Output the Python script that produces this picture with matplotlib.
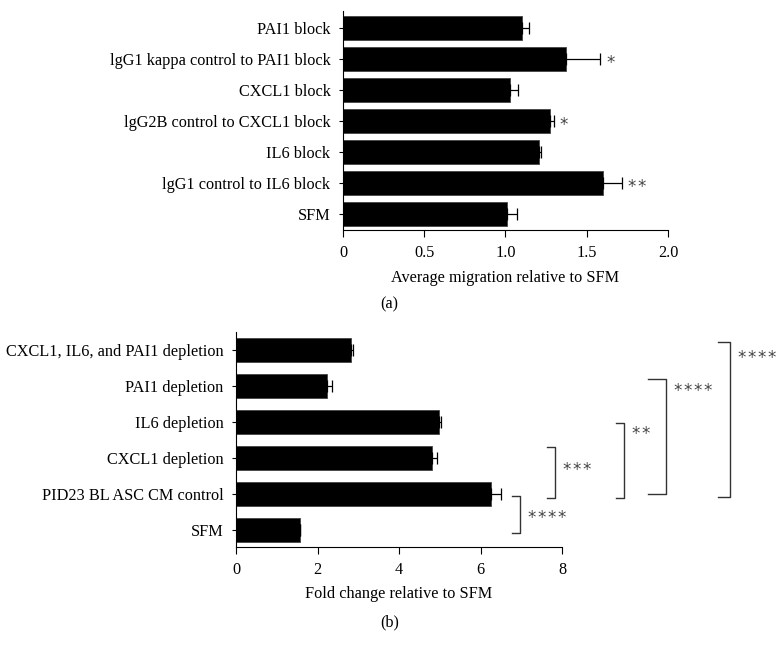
import matplotlib
matplotlib.use("Agg")
import matplotlib.pyplot as plt
import numpy as np

plt.rcParams.update({
    "font.family": "serif",
    "font.serif": ["Liberation Serif", "DejaVu Serif"],
    "font.size": 11.7,
})

#%% Panel (a) data (bottom to top)
labels_a = ['SFM', 'lgG1 control to IL6 block', 'IL6 block',
            'lgG2B control to CXCL1 block', 'CXCL1 block',
            'lgG1 kappa control to PAI1 block', 'PAI1 block']
mig_a = [1.01, 1.60, 1.206, 1.273, 1.028, 1.374, 1.10]
err_a = [0.06, 0.12, 0.012, 0.025, 0.046, 0.21, 0.045]
stars_a = ['', '**', '', '*', '', '*', '']
xticks_a = [0, 0.5, 1.0, 1.5, 2.0]
xticklabels_a = ['0', '0.5', '1.0', '1.5', '2.0']

#%% Panel (b) data (bottom to top)
labels_b = ['SFM', 'PID23 BL ASC CM control', 'CXCL1 depletion',
            'IL6 depletion', 'PAI1 depletion',
            'CXCL1, IL6, and PAI1 depletion']
fold_b = [1.56, 6.26, 4.82, 4.97, 2.23, 2.81]
err_b = [0.0, 0.25, 0.10, 0.06, 0.12, 0.06]
xticks_b = [0, 2, 4, 6, 8]
stars_b = ['****', '***', '**', '****', '****']

star_kw = dict(family='DejaVu Sans', fontsize=12, color='#444444')


def spaced(s):
    # small gap between asterisks, as in the figure
    return '\u200a'.join(s)


fig = plt.figure(figsize=(7.84, 6.54), dpi=100)

#%% Panel (a)
ax = fig.add_axes([0.4375, 0.648, 0.852 - 0.4375, 0.9836 - 0.648])
ya = np.arange(len(labels_a))
ax.barh(ya, mig_a, height=0.76, color='black', edgecolor='#444444', linewidth=0.6)
ax.errorbar(mig_a, ya, xerr=[np.zeros(len(err_a)), err_a], fmt='none',
            ecolor='black', elinewidth=0.9, capsize=4.5, capthick=0.9)
for i in range(len(labels_a)):
    if stars_a[i]:
        ax.text(mig_a[i] + err_a[i] + 0.035, ya[i] - 0.12, spaced(stars_a[i]),
                ha='left', va='center', **star_kw)
ax.set_xlim(0, 2.0)
ax.set_ylim(-0.52, 6.55)
ax.set_yticks(ya)
ax.set_yticklabels(labels_a)
ax.set_xticks(xticks_a)
ax.set_xticklabels(xticklabels_a)
ax.set_xlabel('Average migration relative to SFM', labelpad=6)
ax.spines['top'].set_visible(False)
ax.spines['right'].set_visible(False)
ax.tick_params(axis='y', length=3, width=0.8, pad=6)
ax.tick_params(axis='x', length=5, width=0.8, pad=6)
fig.text(0.497, 0.535, '(a)', ha='center', va='center')

#%% Panel (b)
ax2 = fig.add_axes([0.301, 0.164, 0.717 - 0.301, 0.492 - 0.164])
yb = np.arange(len(labels_b))
ax2.barh(yb, fold_b, height=0.67, color='black', edgecolor='#444444', linewidth=0.6)
ax2.errorbar(fold_b, yb, xerr=[np.zeros(len(err_b)), err_b], fmt='none',
             ecolor='black', elinewidth=0.9, capsize=4.5, capthick=0.9)
ax2.set_xlim(0, 8)
ax2.set_ylim(-0.46, 5.5)
ax2.set_yticks(yb)
ax2.set_yticklabels(labels_b)
ax2.set_xticks(xticks_b)
ax2.set_xlabel('Fold change relative to SFM', labelpad=6)
ax2.spines['top'].set_visible(False)
ax2.spines['right'].set_visible(False)
ax2.tick_params(axis='y', length=3, width=0.8, pad=6)
ax2.tick_params(axis='x', length=5, width=0.8, pad=6)

# significance brackets (SFM vs control, then each depletion vs control)
br_x = [6.96, 7.82, 9.51, 10.54, 12.11]
br_w = [0.19, 0.19, 0.20, 0.43, 0.28]
br_top = [0.95, 2.31, 2.99, 4.19, 5.24]
br_bot = [-0.07, 0.90, 0.90, 1.0, 0.93]
txt_y = [0.44, 1.78, 2.78, 3.97, 4.89]
for k in range(len(stars_b)):
    xv = br_x[k]
    ax2.plot([xv - br_w[k], xv, xv, xv - br_w[k]],
             [br_top[k], br_top[k], br_bot[k], br_bot[k]],
             color='#333333', lw=1.0, clip_on=False)
    ax2.text(xv + 0.2, txt_y[k] - 0.1, spaced(stars_b[k]), ha='left', va='center',
             clip_on=False, **star_kw)
fig.text(0.497, 0.049, '(b)', ha='center', va='center')

fig.savefig('out.png', dpi=100)
